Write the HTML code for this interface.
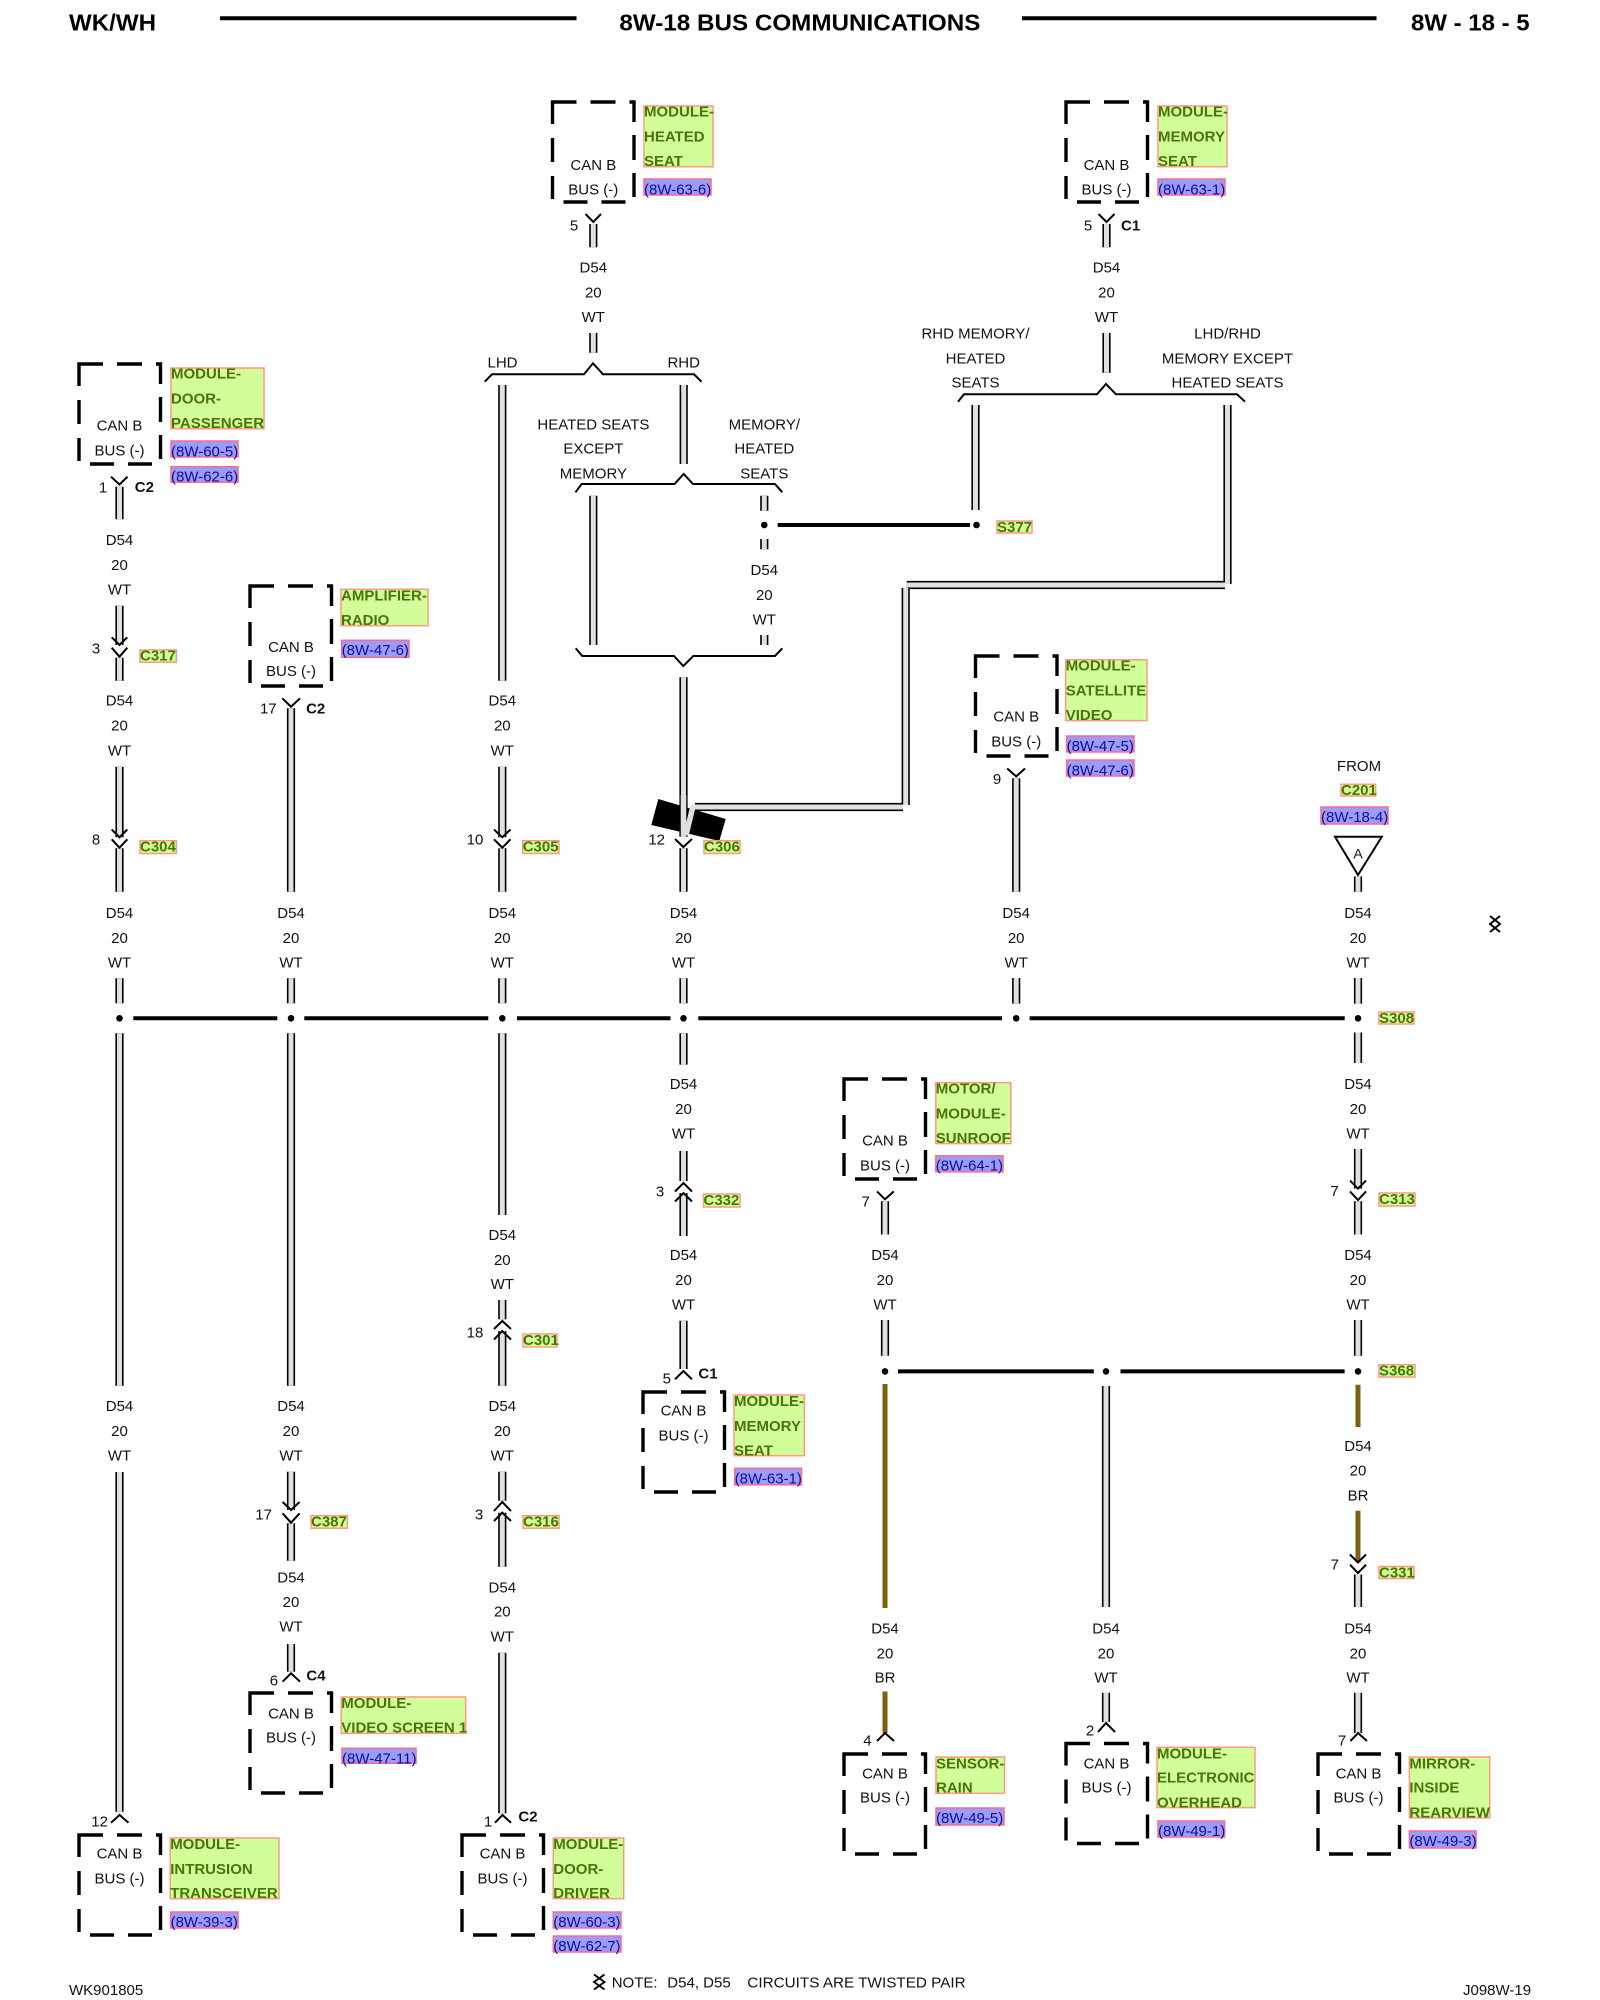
<!DOCTYPE html>
<html><head><meta charset="utf-8"><title>8W-18 Bus Communications</title>
<style>
html,body{margin:0;padding:0;background:#fff}
svg{display:block}
text{font-family:"Liberation Sans",sans-serif;font-size:15px;fill:#111;transform:translateY(-.7px)}
.c{text-anchor:middle}
.b{font-weight:bold}
.h{font-weight:bold;font-size:23px;fill:#000;transform:none}
.yr{fill:#d2ff99;stroke:#ff9a80;stroke-width:1.5}
.br{fill:#9c9cff;stroke:#ff6a88;stroke-width:1.5}
.y{font-weight:bold;fill:#4a7408}
.u{fill:#0c0c9c}
.l{fill:none;stroke:#000;stroke-width:2}
</style></head><body>
<svg width="1600" height="2000" viewBox="0 0 1600 2000" xmlns="http://www.w3.org/2000/svg">
<defs>
<path id="w" fill="none" d="M593.3 224V247.3M593.3 333V352.7M1106.5 224V247.3M1106.5 333V372.7M502.3 385V680.7M683.7 385V464M593.3 495.7V645M764.3 495.7V510.7M764.3 539V549.3M764.3 635V645M975.5 405V510M1227.5 405V584M906.8 585H1225M905.7 588V805M903 807H695M683.5 677.3V836.7M683.5 848.3V891.7M683.5 978.3V1003.3M683.5 1033.3V1064.6M683.5 1151V1181M683.5 1193V1236M683.5 1320.7V1369M119.5 486.7V519.3M119.5 605.7V645M119.5 657.7V680.7M119.5 766.7V837.3M119.5 848.3V891.7M119.5 978.3V1003.3M119.5 1033.3V1385.7M119.5 1472V1811.7M291 708.3V891.7M291 978.3V1003.3M291 1033.3V1385.7M291 1471.7V1510M291 1523.3V1560.7M291 1644V1671.7M502.3 766.7V837.3M502.3 848.3V891.7M502.3 978.3V1003.3M502.3 1033.3V1215M502.3 1300V1319.3M502.3 1331V1385.7M502.3 1471.7V1500.7M502.3 1512.7V1566.7M502.3 1652.7V1813.3M1016.2 778.3V891.8M1016.2 978V1003.6M1358 876.4V891.8M1358 978V1003.6M1358 1032.5V1063M1358 1149V1188.6M1358 1201.3V1234.5M1358 1320V1355.8M1358 1574.5V1607M1358 1692.9V1733M885 1201.3V1234.5M885 1320V1355.8M1106 1386V1607M1106 1692.9V1722"/>
<path id="bx" fill="none" stroke="#000" stroke-width="3.4" d="M0 22V0H24M38 0H63M77 0H81.5V20M81.5 33V58M81.5 71V95M0 36V60M0 74V97M11 100H35M49 100H73"/>
</defs>
<rect width="1600" height="2000" fill="#fff"/>

<!-- header -->
<path d="M220 18.3H576.5M1022 18.3H1376.5" stroke="#000" stroke-width="4" fill="none"/>
<text class="h" x="69" y="30.7" textLength="87" lengthAdjust="spacingAndGlyphs">WK/WH</text>
<text class="h" x="619.4" y="30.7" textLength="361" lengthAdjust="spacingAndGlyphs">8W-18 BUS COMMUNICATIONS</text>
<text class="h" x="1411" y="30.7" textLength="118.6" lengthAdjust="spacingAndGlyphs">8W - 18 - 5</text>

<!-- wires -->
<use href="#w" stroke="#000" stroke-width="8.2"/>
<use href="#w" stroke="#e0e0e0" stroke-width="5"/>
<path d="M885 1384V1608M885 1691.5V1733M1358 1384.8V1427M1358 1510.7V1562.5" stroke="#7f5f0f" stroke-width="5" fill="none"/>

<!-- black blob at C306 -->
<path d="M658.3 799L725.7 819L719.3 841L651.3 825Z" fill="#000"/>
<path d="M683.5 795V836.7M693.3 805L686 835" stroke="#e0e0e0" stroke-width="5.5" fill="none"/>

<!-- splice bus lines -->
<path d="M133.3 1018.3H277.3M304.3 1018.3H488.3M517 1018.3H670.5M698.3 1018.3H1002M1029.6 1018.3H1344.7M898 1371.4H1093.8M1120.5 1371.4H1344.6M777.7 525H970" stroke="#000" stroke-width="4" fill="none"/>
<g fill="#000"><circle cx="119.5" cy="1018.3" r="3.3"/><circle cx="291" cy="1018.3" r="3.3"/><circle cx="502.3" cy="1018.3" r="3.3"/><circle cx="683.5" cy="1018.3" r="3.3"/><circle cx="1016.2" cy="1018.3" r="3.3"/><circle cx="1358" cy="1018.3" r="3.3"/><circle cx="885" cy="1371.4" r="3.3"/><circle cx="1106" cy="1371.4" r="3.3"/><circle cx="1358" cy="1371.4" r="3.3"/><circle cx="764.3" cy="525" r="3.3"/><circle cx="976.5" cy="525" r="3.3"/></g>

<!-- braces -->
<path class="l" d="M484.7 381.7L492 374.3H584L593 363.3L603 374.3H694L701.5 381.7"/>
<path class="l" d="M575.5 492.3L581.6 484H674.5L683.7 474L693 484H775L782.3 492.3"/>
<path class="l" d="M575.7 648.3L582.3 656H674L683.3 666L693.3 656H775L782.3 648.3"/>
<path class="l" d="M958 401.7L964 394.3H1097L1106 384L1116 394.3H1237L1245 401.7"/>

<!-- connector marks -->
<path class="l" d="M585.5 214L593.3 222L601 214M1098.5 214L1106.5 222L1114.5 214M111 476.7L119.5 484.5L127.5 476.7M282.3 698.3L291 706.7L300 698.3M1007.2 768.5L1016.2 776.4L1025 768.5M877 1191.4L885 1199.3L893.8 1191.4"/>
<path class="l" d="M111.7 637.3L119.5 645L127.3 637.3M111.7 647.7L119.5 656.7L127.3 647.7M111.7 829.5L119.5 837.3L127.3 829.5M111.7 839.3L119.5 847.7L127.3 839.3M494 829.5L502.3 837.3L510.5 829.5M494 839.3L502.3 847.7L510.5 839.3M675 839L683.3 847L692 839M282.6 1502L291 1510L299.6 1502M282.6 1513.3L291 1522.7L299.6 1513.3M1350 1180.6L1358 1188.6L1366 1180.6M1350 1191.4L1358 1200L1366 1191.4M1350 1554.5L1358 1562.5L1366 1554.5M1350 1564.7L1358 1573L1366 1564.7"/>
<path class="l" d="M494 1329L502.3 1321L511 1329M494 1339.5L502.3 1331L511 1339.5M494 1511L502.3 1502L511 1511M494 1521L502.3 1512.7L511 1521M675 1191.5L683.5 1183L692 1191.5M675 1201.5L683.5 1193L692 1201.5M111 1822.7L119.6 1815L128.5 1822.7M495 1822.7L502.5 1815L511 1822.7M282.6 1681.7L291 1673.3L300 1681.7M675 1379.3L683.4 1371L692 1379.3M877 1741L885 1733L894 1741M1098 1732L1106 1723L1115 1732M1350.4 1741L1358 1733L1367 1741"/>

<!-- triangle A -->
<path d="M1335 836.8H1381.8L1358 875Z" fill="#fff" stroke="#000" stroke-width="2"/>
<text class="c" x="1358" y="859" style="font-size:14px">A</text>

<!-- twisted pair symbols -->
<path d="M1490 916L1500 924L1490 932M1500 916L1490 924L1500 932" fill="none" stroke="#000" stroke-width="1.9"/>
<path d="M594 1974.5L604.5 1982L594 1989.5M604.5 1974.5L594 1982L604.5 1989.5" fill="none" stroke="#000" stroke-width="1.9"/>

<!-- module boxes -->
<use href="#bx" x="552.5" y="102"/>
<use href="#bx" x="1066" y="102"/>
<use href="#bx" x="79" y="364"/>
<use href="#bx" x="250" y="586"/>
<use href="#bx" x="975.5" y="656"/>
<use href="#bx" x="844" y="1079"/>
<use href="#bx" x="643" y="1392"/>
<use href="#bx" x="250" y="1693"/>
<use href="#bx" x="79" y="1835"/>
<use href="#bx" x="462" y="1835"/>
<use href="#bx" x="844" y="1754"/>
<use href="#bx" x="1066" y="1743.5"/>
<use href="#bx" x="1318" y="1754"/>

<!-- box text -->
<g class="c">
<text class="c" x="593.3" y="170.5">CAN B</text><text class="c" x="593.3" y="195.3">BUS (-)</text>
<text class="c" x="1106.5" y="170.5">CAN B</text><text class="c" x="1106.5" y="195.3">BUS (-)</text>
<text class="c" x="119.5" y="431">CAN B</text><text class="c" x="119.5" y="456">BUS (-)</text>
<text class="c" x="291" y="652.5">CAN B</text><text class="c" x="291" y="676.8">BUS (-)</text>
<text class="c" x="1016.2" y="722">CAN B</text><text class="c" x="1016.2" y="747">BUS (-)</text>
<text class="c" x="885" y="1146">CAN B</text><text class="c" x="885" y="1171">BUS (-)</text>
<text class="c" x="683.5" y="1416">CAN B</text><text class="c" x="683.5" y="1441">BUS (-)</text>
<text class="c" x="291" y="1719">CAN B</text><text class="c" x="291" y="1743">BUS (-)</text>
<text class="c" x="119.5" y="1859">CAN B</text><text class="c" x="119.5" y="1884">BUS (-)</text>
<text class="c" x="502.5" y="1859">CAN B</text><text class="c" x="502.5" y="1884">BUS (-)</text>
<text class="c" x="885" y="1779">CAN B</text><text class="c" x="885" y="1803">BUS (-)</text>
<text class="c" x="1106.5" y="1769">CAN B</text><text class="c" x="1106.5" y="1793">BUS (-)</text>
<text class="c" x="1358.5" y="1779">CAN B</text><text class="c" x="1358.5" y="1803">BUS (-)</text>
</g>

<!-- yellow module labels -->
<rect class="yr" x="644" y="106" width="69" height="60.7"/><text class="y" x="644" y="117">MODULE-</text><text class="y" x="644" y="142">HEATED</text><text class="y" x="644" y="166.5">SEAT</text>
<rect class="yr" x="1158" y="106" width="69" height="60.7"/><text class="y" x="1158" y="117">MODULE-</text><text class="y" x="1158" y="142">MEMORY</text><text class="y" x="1158" y="166.5">SEAT</text>
<rect class="yr" x="171" y="368" width="93" height="60.7"/><text class="y" x="171" y="379">MODULE-</text><text class="y" x="171" y="404">DOOR-</text><text class="y" x="171" y="428.5">PASSENGER</text>
<rect class="yr" x="341" y="589.3" width="87" height="36.4"/><text class="y" x="341" y="601">AMPLIFIER-</text><text class="y" x="341" y="625.5">RADIO</text>
<rect class="yr" x="1065.7" y="659.8" width="81.3" height="60.8"/><text class="y" x="1065.7" y="671">MODULE-</text><text class="y" x="1065.7" y="696">SATELLITE</text><text class="y" x="1065.7" y="720.5">VIDEO</text>
<rect class="yr" x="935.8" y="1082.7" width="75" height="60.9"/><text class="y" x="935.8" y="1094">MOTOR/</text><text class="y" x="935.8" y="1119">MODULE-</text><text class="y" x="935.8" y="1143.5">SUNROOF</text>
<rect class="yr" x="734" y="1395" width="70.3" height="60.7"/><text class="y" x="734" y="1406.5">MODULE-</text><text class="y" x="734" y="1431.5">MEMORY</text><text class="y" x="734" y="1456">SEAT</text>
<rect class="yr" x="341.3" y="1697" width="124.4" height="36.3"/><text class="y" x="341.3" y="1708.5">MODULE-</text><text class="y" x="341.3" y="1733">VIDEO SCREEN 1</text>
<rect class="yr" x="170.2" y="1838" width="108.8" height="60.7"/><text class="y" x="170.2" y="1849.5">MODULE-</text><text class="y" x="170.2" y="1874.5">INTRUSION</text><text class="y" x="170.2" y="1898.5">TRANSCEIVER</text>
<rect class="yr" x="553.3" y="1838" width="70.4" height="60.7"/><text class="y" x="553.3" y="1849.5">MODULE-</text><text class="y" x="553.3" y="1874.5">DOOR-</text><text class="y" x="553.3" y="1898.5">DRIVER</text>
<rect class="yr" x="936" y="1757" width="68.5" height="36.3"/><text class="y" x="936" y="1769">SENSOR-</text><text class="y" x="936" y="1793">RAIN</text>
<rect class="yr" x="1157" y="1747.3" width="98" height="60.3"/><text class="y" x="1157" y="1759">MODULE-</text><text class="y" x="1157" y="1783">ELECTRONIC</text><text class="y" x="1157" y="1808">OVERHEAD</text>
<rect class="yr" x="1409.4" y="1757" width="80.3" height="60.9"/><text class="y" x="1409.4" y="1769">MIRROR-</text><text class="y" x="1409.4" y="1793">INSIDE</text><text class="y" x="1409.4" y="1818">REARVIEW</text>

<!-- blue refs -->
<rect class="br" x="644" y="179" width="67" height="16"/><text class="u" x="644" y="195">(8W-63-6)</text>
<rect class="br" x="1158" y="179" width="67" height="16"/><text class="u" x="1158" y="195">(8W-63-1)</text>
<rect class="br" x="171" y="441" width="67" height="16"/><text class="u" x="171" y="457">(8W-60-5)</text>
<rect class="br" x="171" y="466.7" width="67" height="15.5"/><text class="u" x="171" y="482">(8W-62-6)</text>
<rect class="br" x="341.7" y="640.3" width="67.3" height="17"/><text class="u" x="341.7" y="655.5">(8W-47-6)</text>
<rect class="br" x="1066.6" y="736" width="67.4" height="16"/><text class="u" x="1066.6" y="751.5">(8W-47-5)</text>
<rect class="br" x="1066.6" y="760" width="67.4" height="16"/><text class="u" x="1066.6" y="776">(8W-47-6)</text>
<rect class="br" x="1321" y="807" width="67" height="17"/><text class="u" x="1321" y="822.5">(8W-18-4)</text>
<rect class="br" x="935.8" y="1155.8" width="67.2" height="16"/><text class="u" x="935.8" y="1171">(8W-64-1)</text>
<rect class="br" x="734.7" y="1468.3" width="66.8" height="16.5"/><text class="u" x="734.7" y="1484">(8W-63-1)</text>
<rect class="br" x="342" y="1748.3" width="74" height="15"/><text class="u" x="342" y="1764">(8W-47-11)</text>
<rect class="br" x="170.6" y="1912" width="67.4" height="16"/><text class="u" x="170.6" y="1927.5">(8W-39-3)</text>
<rect class="br" x="553.3" y="1912" width="67.7" height="16"/><text class="u" x="553.3" y="1927.5">(8W-60-3)</text>
<rect class="br" x="553.3" y="1936" width="67.7" height="16"/><text class="u" x="553.3" y="1951.5">(8W-62-7)</text>
<rect class="br" x="936" y="1808" width="68" height="17"/><text class="u" x="936" y="1823.5">(8W-49-5)</text>
<rect class="br" x="1158" y="1821" width="66.6" height="16"/><text class="u" x="1158" y="1836.5">(8W-49-1)</text>
<rect class="br" x="1409.4" y="1831" width="66.6" height="17"/><text class="u" x="1409.4" y="1846.5">(8W-49-3)</text>

<!-- connector tags -->
<rect class="yr" x="140" y="650" width="36.3" height="12.3"/><text class="y" x="140" y="661">C317</text>
<rect class="yr" x="140" y="840.7" width="36.3" height="12.8"/><text class="y" x="140" y="852">C304</text>
<rect class="yr" x="522.7" y="840.7" width="36.3" height="12.8"/><text class="y" x="522.7" y="852">C305</text>
<rect class="yr" x="704" y="840.7" width="36" height="12.8"/><text class="y" x="704" y="852">C306</text>
<rect class="yr" x="997" y="521" width="35" height="12"/><text class="y" x="997" y="532.5">S377</text>
<rect class="yr" x="1379" y="1012" width="35" height="12"/><text class="y" x="1379" y="1023.5">S308</text>
<rect class="yr" x="703.5" y="1194" width="36.5" height="13"/><text class="y" x="703.5" y="1205.5">C332</text>
<rect class="yr" x="1379" y="1193" width="36" height="13"/><text class="y" x="1379" y="1204.5">C313</text>
<rect class="yr" x="523" y="1334" width="34" height="13"/><text class="y" x="523" y="1345.5">C301</text>
<rect class="yr" x="311" y="1515.7" width="36.4" height="12.5"/><text class="y" x="311" y="1527">C387</text>
<rect class="yr" x="523" y="1515.7" width="36" height="12.5"/><text class="y" x="523" y="1527">C316</text>
<rect class="yr" x="1379" y="1364.7" width="36" height="12.3"/><text class="y" x="1379" y="1376">S368</text>
<rect class="yr" x="1379" y="1566.5" width="35" height="12"/><text class="y" x="1379" y="1578">C331</text>
<rect class="yr" x="1341" y="784.3" width="34.6" height="11.7"/><text class="y" x="1341" y="795.5">C201</text>

<!-- D54 / 20 / WT triples -->
<text class="c" x="593.3" y="273.4">D54<tspan x="593.3" dy="25">20</tspan><tspan x="593.3" dy="24.5">WT</tspan></text>
<text class="c" x="1106.5" y="273.4">D54<tspan x="1106.5" dy="25">20</tspan><tspan x="1106.5" dy="24.5">WT</tspan></text>
<text class="c" x="764.3" y="575.9">D54<tspan x="764.3" dy="25">20</tspan><tspan x="764.3" dy="24.5">WT</tspan></text>
<text class="c" x="119.5" y="545.6">D54<tspan x="119.5" dy="25">20</tspan><tspan x="119.5" dy="24.8">WT</tspan></text>
<text class="c" x="119.5" y="706.3">D54<tspan x="119.5" dy="25">20</tspan><tspan x="119.5" dy="24.8">WT</tspan></text>
<text class="c" x="502.3" y="706.3">D54<tspan x="502.3" dy="25">20</tspan><tspan x="502.3" dy="24.8">WT</tspan></text>
<text class="c" x="119.5" y="918.5">D54<tspan x="119.5" dy="25">20</tspan><tspan x="119.5" dy="24.5">WT</tspan></text>
<text class="c" x="291" y="918.5">D54<tspan x="291" dy="25">20</tspan><tspan x="291" dy="24.5">WT</tspan></text>
<text class="c" x="502.3" y="918.5">D54<tspan x="502.3" dy="25">20</tspan><tspan x="502.3" dy="24.5">WT</tspan></text>
<text class="c" x="683.5" y="918.5">D54<tspan x="683.5" dy="25">20</tspan><tspan x="683.5" dy="24.5">WT</tspan></text>
<text class="c" x="1016.2" y="918.5">D54<tspan x="1016.2" dy="25">20</tspan><tspan x="1016.2" dy="24.5">WT</tspan></text>
<text class="c" x="1358" y="918.5">D54<tspan x="1358" dy="25">20</tspan><tspan x="1358" dy="24.5">WT</tspan></text>
<text class="c" x="683.5" y="1089.7">D54<tspan x="683.5" dy="25">20</tspan><tspan x="683.5" dy="24.5">WT</tspan></text>
<text class="c" x="1358" y="1089.7">D54<tspan x="1358" dy="25">20</tspan><tspan x="1358" dy="24.5">WT</tspan></text>
<text class="c" x="683.5" y="1260.7">D54<tspan x="683.5" dy="25">20</tspan><tspan x="683.5" dy="24.5">WT</tspan></text>
<text class="c" x="885" y="1260.7">D54<tspan x="885" dy="25">20</tspan><tspan x="885" dy="24.5">WT</tspan></text>
<text class="c" x="1358" y="1260.7">D54<tspan x="1358" dy="25">20</tspan><tspan x="1358" dy="24.5">WT</tspan></text>
<text class="c" x="502.3" y="1240.5">D54<tspan x="502.3" dy="25">20</tspan><tspan x="502.3" dy="24">WT</tspan></text>
<text class="c" x="119.5" y="1411.5">D54<tspan x="119.5" dy="25">20</tspan><tspan x="119.5" dy="24.5">WT</tspan></text>
<text class="c" x="291" y="1411.5">D54<tspan x="291" dy="25">20</tspan><tspan x="291" dy="24.5">WT</tspan></text>
<text class="c" x="502.3" y="1411.5">D54<tspan x="502.3" dy="25">20</tspan><tspan x="502.3" dy="24.5">WT</tspan></text>
<text class="c" x="1358" y="1451.7">D54<tspan x="1358" dy="24.5">20</tspan><tspan x="1358" dy="24.8">BR</tspan></text>
<text class="c" x="291" y="1583">D54<tspan x="291" dy="24.5">20</tspan><tspan x="291" dy="24.5">WT</tspan></text>
<text class="c" x="502.3" y="1593">D54<tspan x="502.3" dy="24">20</tspan><tspan x="502.3" dy="25">WT</tspan></text>
<text class="c" x="885" y="1634">D54<tspan x="885" dy="25">20</tspan><tspan x="885" dy="24">BR</tspan></text>
<text class="c" x="1106" y="1634">D54<tspan x="1106" dy="25">20</tspan><tspan x="1106" dy="24">WT</tspan></text>
<text class="c" x="1358" y="1634">D54<tspan x="1358" dy="25">20</tspan><tspan x="1358" dy="24">WT</tspan></text>

<!-- branch text -->
<text class="c" x="502.5" y="368">LHD</text>
<text class="c" x="683.7" y="368">RHD</text>
<text class="c" x="593.4" y="430">HEATED SEATS</text><text class="c" x="593.4" y="454.3">EXCEPT</text><text class="c" x="593.4" y="479">MEMORY</text>
<text class="c" x="764.3" y="430">MEMORY/</text><text class="c" x="764.3" y="454.3">HEATED</text><text class="c" x="764.3" y="479">SEATS</text>
<text class="c" x="975.5" y="339">RHD MEMORY/</text><text class="c" x="975.5" y="364">HEATED</text><text class="c" x="975.5" y="388">SEATS</text>
<text class="c" x="1227.5" y="339">LHD/RHD</text><text class="c" x="1227.5" y="364">MEMORY EXCEPT</text><text class="c" x="1227.5" y="388">HEATED SEATS</text>
<text class="c" x="1359" y="771.8">FROM</text>

<!-- cavity numbers -->
<text class="c" x="574" y="231.3">5</text>
<text class="c" x="1088" y="231.3">5</text>
<text class="c b" x="1130.6" y="231.3">C1</text>
<text class="c" x="103" y="493">1</text>
<text class="c b" x="144.4" y="492.5">C2</text>
<text class="c" x="96" y="654.3">3</text>
<text class="c" x="96" y="845">8</text>
<text class="c" x="475" y="845">10</text>
<text class="c" x="268.3" y="714">17</text>
<text class="c b" x="315.7" y="714">C2</text>
<text class="c" x="656.7" y="845.3">12</text>
<text class="c" x="997" y="784.8">9</text>
<text class="c" x="660" y="1197.3">3</text>
<text class="c" x="1334.5" y="1196.7">7</text>
<text class="c" x="865.7" y="1207.3">7</text>
<text class="c" x="475" y="1338">18</text>
<text class="c" x="666.8" y="1384">5</text>
<text class="c b" x="708" y="1379">C1</text>
<text class="c" x="479" y="1520">3</text>
<text class="c" x="263.6" y="1520">17</text>
<text class="c" x="1334.8" y="1570">7</text>
<text class="c" x="273.9" y="1686">6</text>
<text class="c b" x="316" y="1681">C4</text>
<text class="c" x="99.6" y="1827">12</text>
<text class="c" x="488" y="1827">1</text>
<text class="c b" x="528" y="1822">C2</text>
<text class="c" x="867.4" y="1746.3">4</text>
<text class="c" x="1090" y="1736.3">2</text>
<text class="c" x="1342" y="1746.3">7</text>

<!-- footer -->
<text x="69" y="1995.5">WK901805</text>
<text x="611.7" y="1988.3">NOTE:</text>
<text x="667.3" y="1988.3">D54, D55</text>
<text x="747.3" y="1988.3" textLength="218.4" lengthAdjust="spacingAndGlyphs">CIRCUITS ARE TWISTED PAIR</text>
<text x="1463" y="1995.5">J098W-19</text>
</svg>
</body></html>
